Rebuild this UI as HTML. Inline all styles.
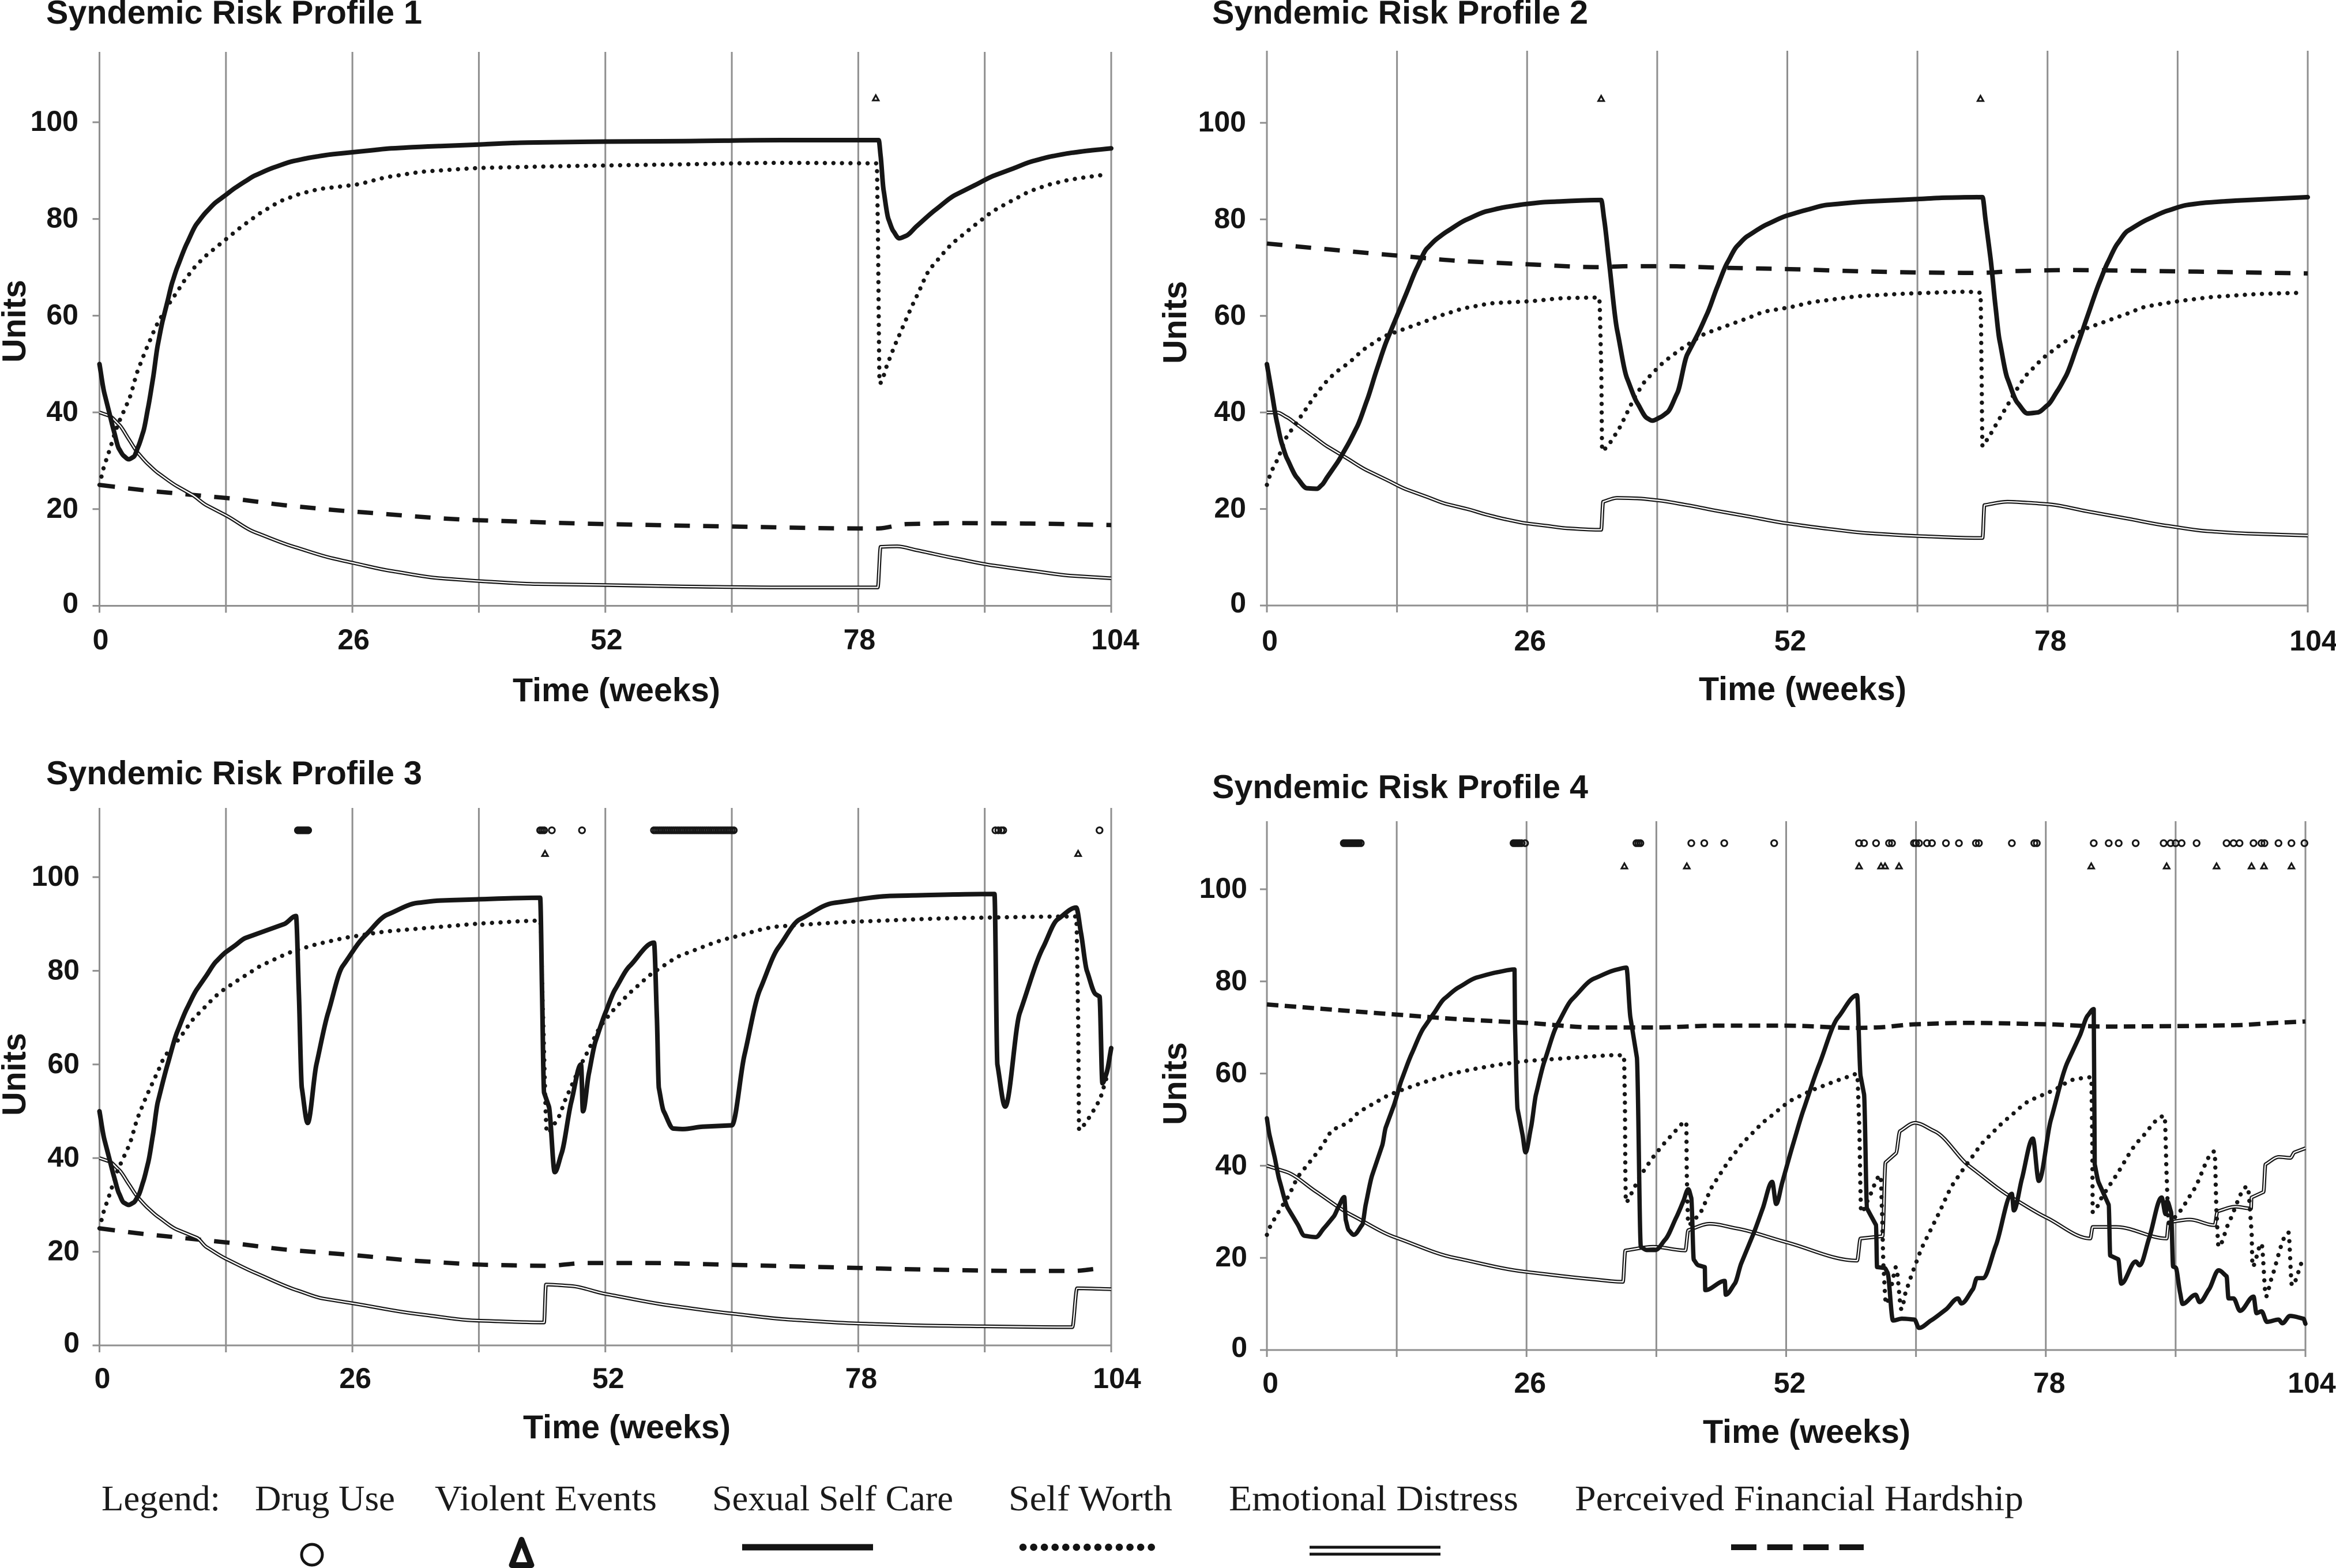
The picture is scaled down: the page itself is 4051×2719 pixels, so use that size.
<!DOCTYPE html>
<html lang="en">
<head>
<meta charset="utf-8">
<title>Syndemic Risk Profiles</title>
<style>
html,body{margin:0;padding:0;background:#fff;}
svg{display:block;position:absolute;left:0;top:0;}
.title,.axis-title,.tick{font-family:"Liberation Sans",sans-serif;font-weight:bold;fill:#141414;}
.title,.axis-title{font-size:57.5px;}
.tick{font-size:50px;}
.lg{font-family:"Liberation Serif",serif;font-size:62px;fill:#1a1a1a;}
</style>
</head>
<body>
<svg id="chart" xmlns="http://www.w3.org/2000/svg" width="4051" height="2719" viewBox="0 0 4051 2719">
<rect x="0" y="0" width="4051" height="2719" fill="#fff"/>

<g id="panel1">
<text class="title" x="80" y="41">Syndemic Risk Profile 1</text>
<text class="axis-title" x="1069" y="1216" text-anchor="middle">Time (weeks)</text>
<text class="axis-title" transform="translate(44 557) rotate(-90)" text-anchor="middle">Units</text>
</g>
<g id="panel2">
<text class="title" x="2102" y="41">Syndemic Risk Profile 2</text>
<text class="axis-title" x="3126" y="1214" text-anchor="middle">Time (weeks)</text>
<text class="axis-title" transform="translate(2057 559) rotate(-90)" text-anchor="middle">Units</text>
</g>
<g id="panel3">
<text class="title" x="80" y="1360">Syndemic Risk Profile 3</text>
<text class="axis-title" x="1087" y="2494" text-anchor="middle">Time (weeks)</text>
<text class="axis-title" transform="translate(44 1863) rotate(-90)" text-anchor="middle">Units</text>
</g>
<g id="panel4">
<text class="title" x="2102" y="1384">Syndemic Risk Profile 4</text>
<text class="axis-title" x="3133" y="2502" text-anchor="middle">Time (weeks)</text>
<text class="axis-title" transform="translate(2057 1879) rotate(-90)" text-anchor="middle">Units</text>
</g>

<g>
<text class="lg" x="176" y="2619" textLength="206" lengthAdjust="spacingAndGlyphs">Legend:</text>
<text class="lg" x="442" y="2619" textLength="243" lengthAdjust="spacingAndGlyphs">Drug Use</text>
<text class="lg" x="754" y="2619" textLength="385" lengthAdjust="spacingAndGlyphs">Violent Events</text>
<text class="lg" x="1235" y="2619" textLength="418" lengthAdjust="spacingAndGlyphs">Sexual Self Care</text>
<text class="lg" x="1749" y="2619" textLength="284" lengthAdjust="spacingAndGlyphs">Self Worth</text>
<text class="lg" x="2131" y="2619" textLength="502" lengthAdjust="spacingAndGlyphs">Emotional Distress</text>
<text class="lg" x="2731" y="2619" textLength="778" lengthAdjust="spacingAndGlyphs">Perceived Financial Hardship</text>
<circle cx="541" cy="2696" r="18" fill="none" stroke="#141414" stroke-width="5"/>
<path d="M904.5 2670 L921.5 2714 L887.5 2714 Z" fill="none" stroke="#141414" stroke-width="10" stroke-linejoin="round"/>
<line x1="1287" y1="2683" x2="1514" y2="2683" stroke="#141414" stroke-width="11"/>
<line x1="1774" y1="2683" x2="1997" y2="2683" stroke="#141414" stroke-width="12.5" stroke-linecap="round" stroke-dasharray="0.1 18.45"/>
<line x1="2271" y1="2683" x2="2498" y2="2683" stroke="#141414" stroke-width="5"/>
<line x1="2271" y1="2695" x2="2498" y2="2695" stroke="#141414" stroke-width="5"/>
<line x1="3002" y1="2683" x2="3232" y2="2683" stroke="#141414" stroke-width="10" stroke-dasharray="44 18.6"/>
</g>
</svg>

<script>
// Shared axis values
const weekTicks = [0, 13, 26, 39, 52, 65, 78, 91, 104];
const weekLabels = ['0', '', '26', '', '52', '', '78', '', '104'];
const unitTicks = [0, 20, 40, 60, 80, 100];

// ---- Profile 1 ----
const p1Care = [[0,50],[.5,44],[1,40],[1.5,36],[2,32.5],[2.5,31],[3,30.3],[3.5,30.8],[4,33],[4.5,36],[5,41],[5.5,47],[6,54],[6.5,59],[7,63],[7.5,67],[8,70],[9,75],[10,79],[11,81.5],[12,83.5],[13,85],[14,86.5],[15,87.8],[16,89],[18,90.7],[20,92],[22,92.8],[24,93.4],[26,93.8],[28,94.2],[30,94.6],[34,95],[38,95.3],[44,95.8],[52,96],[60,96.1],[70,96.3],[80.1,96.3],[80.3,93],[80.6,86],[81.1,80],[81.6,77.5],[82.2,76],[82.9,76.5],[84,78.5],[86,82],[88,85],[90,87],[92,89],[94,90.5],[96,92],[98,93],[100,93.7],[102,94.2],[104,94.6]];
const p1Worth = [[0,25],[.5,29],[1,32],[2,38],[3,42.5],[4,49],[5,54],[6,58.5],[7,62],[8,65],[9,68],[10,70.5],[11,72.5],[13,75.8],[15,79],[17,81.8],[19,84],[21,85.4],[23,86.3],[26,87],[30,88.8],[34,89.9],[40,90.6],[50,91],[60,91.3],[70,91.6],[79.9,91.5],[80,80],[80.2,46],[81,50],[82,55],[84,64],[85.5,70],[88,75.5],[90.8,80],[92,81.8],[94,84],[96,86],[98,87.3],[100,88.2],[102,88.8],[103.5,89.2]];
const p1Distress = [[0,40],[1,39.3],[2,37.5],[3,34.5],[4,31.5],[5,29.3],[6,27.5],[8,24.7],[9.5,23],[11,20.8],[13,18.7],[16,15.2],[20,12.2],[24,9.8],[26,8.9],[30,7.2],[35,5.7],[40,5],[45,4.5],[52,4.3],[60,4],[70,3.8],[80,3.8],[80.3,12.2],[82,12.3],[84,11.5],[88,9.8],[92,8.3],[96,7.2],[100,6.2],[104,5.7]];
const p1Hardship = [[0,25],[6,23.6],[13,22.3],[20,20.6],[26,19.5],[39,17.7],[52,16.9],[65,16.4],[78,16],[80,16],[83,16.9],[88,17.1],[96,17],[104,16.7]];
const p1Drug = [];
const p1Violent = [79.8];

// ---- Profile 2 ----
const p2Care = [[0,50],[.5,44],[1,38],[1.5,33.5],[2,30.5],[3,26.5],[4,24.3],[5,24.2],[5.5,25],[6,26.5],[7,29.5],[8,33],[9,37],[10,42.5],[11,49],[12,55],[13,60],[14,65],[15,70],[16,74],[17,76],[18,77.5],[20,80],[22,81.7],[24,82.6],[26,83.2],[28,83.6],[33.4,84],[33.7,80],[34.2,71],[35,57],[36,47],[37,42],[38,38.8],[38.5,38.3],[39.3,39],[40,40],[41,44],[42,52],[43,56],[44,60.5],[45,66],[46,71],[47,74.5],[48,76.5],[50,79],[52,80.8],[54,82],[56,83],[60,83.7],[65,84.2],[68,84.5],[71.5,84.6],[71.8,80],[72.3,72],[72.8,62],[73.2,55],[74,47],[75,42],[76,39.8],[77,40],[78,41.5],[79,44.5],[79.8,47.4],[81,54],[82,60],[83.2,67],[84,71],[85,75],[86,77.6],[88,80],[90,81.8],[92,83],[94,83.5],[97,83.9],[100,84.2],[104,84.6]];
const p2Worth = [[0,25],[.5,28],[1,30],[2,35],[3,38],[4,41],[5,44],[6,46.5],[7,48.5],[8,50],[10,53.5],[12,56],[14,57.5],[16,59],[18,60.5],[20,61.7],[23,62.7],[26,63],[30,63.7],[33.2,63.8],[33.4,50],[33.5,32],[34,33],[35,36],[36,40],[37,44],[38,47],[40,51],[42,54],[44,56.5],[46,58],[48,59.5],[50,61],[52,61.7],[55,63],[60,64.2],[65,64.7],[70,65],[71.3,64.8],[71.4,50],[71.5,33],[72,34.5],[73,38],[74,41.5],[75,45],[76,48],[78,52],[80,55],[82,57.5],[84,59],[86,60.5],[88,62],[90,62.7],[92,63.3],[95,64],[100,64.6],[103.5,64.8]];
const p2Distress = [[0,40],[1,40],[2,39],[3,37.5],[4,36],[5,34.5],[6,33],[8,30.5],[10,28],[12,26],[14,24],[16,22.5],[18,21],[20,20],[22,18.8],[24,17.8],[26,17],[28,16.5],[30,16],[33,15.7],[33.4,15.7],[33.6,21.5],[35,22.3],[37,22.2],[39,21.8],[42,20.8],[45,19.6],[48,18.5],[52,17],[56,15.9],[60,15],[65,14.4],[71,14],[71.5,14],[71.7,20.8],[74,21.5],[76,21.3],[78,21],[82,19.5],[86,18],[90,16.5],[94,15.4],[98,14.9],[104,14.5]];
const p2Hardship = [[0,75],[5,74],[13,72.5],[20,71.3],[26,70.7],[33,70.1],[36,70.3],[40,70.3],[45,70],[52,69.7],[60,69.2],[65,69],[71,68.9],[75,69.3],[80,69.5],[85,69.4],[92,69.2],[104,68.8]];
const p2Drug = [];
const p2Violent = [33.4, 71.3];

// ---- Profile 3 ----
const p3Care = [[0,50],[.5,44],[1,40],[1.5,36],[2,32.5],[2.5,30.5],[3,30],[3.5,30.5],[4,32],[4.5,35],[5,39],[5.5,45],[6,52],[7,60],[8,67],[9,72],[10,76],[11,79],[12,82],[13,84],[14,85.5],[15,87],[17,88.5],[19,90],[20.2,91.7],[20.5,75],[20.8,55],[21.4,47.5],[22.3,60],[23.5,71],[25,81],[27.3,87.5],[29.6,92],[32.7,94.5],[35,95],[38,95.2],[45.3,95.6],[45.5,75],[45.7,54],[46.2,51],[46.8,37],[47.5,41],[48.5,52],[49.5,60],[49.7,50],[50.3,58],[51,65],[52,71],[53,76],[54.5,81],[57,86],[57.3,70],[57.5,55],[58,50],[59,46.3],[60,46.2],[62,46.7],[65,47],[66.3,62],[67.9,76],[69.8,85],[72,91],[75.5,94.5],[81.6,96],[92,96.4],[92.3,60],[93.1,51],[94.6,71],[97,85],[98.5,91],[100.4,93.5],[100.9,88],[101.5,80],[102.4,75],[102.8,74.5],[103.1,56],[103.5,58],[104,63.5]];
const p3Worth = [[0,25],[.5,29],[1,32],[2,38],[3,42.5],[4,49],[5,54],[6,58.5],[6.8,62],[8,65],[10,70.5],[12.8,76],[15,79],[17,81.5],[20.4,84.5],[23,86],[26,87.3],[30,88.5],[35.7,89.5],[40,90.2],[45.3,90.7],[45.6,70],[46,45.4],[47,48],[48,53],[50,62],[51.8,69],[53,72],[54.9,76],[57.2,80],[60,83.5],[64.8,87],[70,89.5],[77.8,90.5],[89.3,91.3],[100.4,91.6],[100.6,70],[100.7,46],[101.5,48],[102.7,52],[103.5,57]];
const p3Distress = [[0,40],[1,39.3],[2,37.5],[3,34.5],[4,31.5],[5,29.3],[6,27.5],[8,24.7],[10,23],[11,21],[13,18.5],[16,15.5],[20.4,11.7],[23,10],[26,9],[32.7,6.7],[38.8,5.3],[45.7,4.9],[45.9,13],[48.4,12.7],[52,11],[58.7,8.5],[65,6.8],[71,5.5],[77.8,4.7],[86,4.2],[100,3.9],[100.5,12.2],[104,12]];
const p3Hardship = [[0,25],[5,23.7],[13,22],[20,20.3],[26,19.3],[33,18],[40,17.2],[46,17],[50,17.6],[56,17.6],[65,17.2],[75,16.7],[85,16.2],[95,15.9],[100,15.9],[103,16.5]];
const p3Drug = [20.4,20.55,20.7,20.85,21,21.15,21.3,21.45,45.3,45.5,45.7,46.5,49.6,57,57.2,57.4,57.6,57.8,58,58.2,58.4,58.6,58.8,59,59.2,59.4,59.6,59.8,60,60.2,60.4,60.6,60.8,61,61.2,61.4,61.6,61.8,62,62.2,62.4,62.6,62.8,63,63.2,63.4,63.6,63.8,64,64.2,64.4,64.6,64.8,65,65.2,92.1,92.4,92.7,92.9,102.8];
const p3Violent = [45.8, 100.6];

// ---- Profile 4 ----
const p4Care = [[0,50.3],[.26,46.7],[.76,42],[1.26,36.8],[2.1,30.8],[3.1,27.2],[3.75,24.8],[4.9,24.5],[5.7,26.4],[6.7,29],[7.2,31.2],[7.75,33.2],[7.9,28.2],[8.2,26],[8.7,25],[9.55,27.2],[9.9,31.6],[10.55,38],[11.55,44.4],[11.9,48.3],[12.7,53],[13.5,58.7],[14.5,64.3],[15.7,69.9],[16.7,73],[17.8,76.3],[19.2,78.7],[21.1,80.9],[23.1,82],[24.8,82.6],[24.85,69.9],[25.1,52.3],[25.6,46.7],[25.9,42.9],[26.45,48.3],[26.95,55.5],[27.8,62.7],[29.1,70.7],[30.6,76.2],[32.75,80.6],[35.1,82.6],[36,83],[36.4,72.2],[37.05,63.5],[37.45,22.4],[38.05,21.7],[38.9,21.7],[39.9,24],[41,28.8],[41.7,32.3],[42.2,34.9],[42.5,33],[42.75,19.6],[43.2,18.4],[43.85,18],[43.9,13],[45.85,15],[45.95,12],[46.85,14.4],[47.5,18.8],[48.7,25.1],[49.65,30.7],[50.6,36.5],[51,31.7],[51.6,36.3],[52.75,45.1],[53.7,51.9],[55.3,61.9],[57.2,72.2],[59.1,77],[59.45,59.5],[59.8,55.5],[60.1,30.7],[61,27.1],[61.1,18],[61.85,17.8],[62.15,16.8],[62.7,6.4],[63.6,6.8],[64.85,6.6],[65.3,4.8],[66.5,6.4],[68,8.8],[69.2,11.2],[69.55,10.1],[70.7,13.2],[71.1,15.6],[71.7,15.6],[73,22.7],[74.6,33.9],[74.8,30.3],[75.6,37.1],[76.7,45.9],[77.3,36.7],[78.5,49.9],[80.2,62.6],[81.4,68.2],[82.2,72.6],[82.8,74],[82.9,40.3],[83.3,36.3],[84.3,31.5],[84.45,20.5],[85.25,19.7],[85.55,14.4],[87,19.2],[87.4,18.4],[88.35,24.3],[89.6,33.1],[90,29.5],[90.15,32.3],[90.55,29.9],[90.75,18.1],[91,17.9],[91.45,12.4],[91.7,10],[93,12],[93.4,10.4],[94.35,13.2],[95.3,17.3],[96.1,16],[96.3,11.2],[96.8,11.2],[97.45,8.5],[98.8,11.6],[99.1,8],[99.6,8.4],[100.15,6.1],[101.3,6.6],[101.7,5.8],[102.45,7.4],[103.8,6.8],[104,5.7]];
const p4Worth = [[0,25],[.33,26.8],[1.2,30.1],[2.1,33.2],[3.25,38],[4.4,41.1],[5.4,43.9],[6.7,47.9],[7.9,49.1],[9.4,51.9],[10.7,53.5],[12.4,55.5],[13.85,56.7],[16.3,58.5],[18.8,60.1],[21.3,61.2],[23.8,62.1],[26.45,62.8],[29.8,63.3],[32.4,63.7],[35,64],[35.75,63.9],[35.85,53.9],[35.9,37.9],[35.95,32],[36.4,33.6],[37.55,38.3],[39.05,42.9],[40.4,46.3],[42,49.5],[42.05,37.9],[42.2,27.2],[43.2,29.2],[44.7,35.9],[46.7,42.3],[47.9,45.5],[50.2,50.3],[52.95,54.7],[55.3,57],[57.8,59],[59.1,59.9],[59.3,49.9],[59.45,33.9],[59.5,29.9],[60.3,33.1],[61.45,37.9],[61.6,29.9],[61.75,18],[62,10],[62.6,14.4],[63,18],[63.55,8.8],[63.95,12.4],[64.85,18],[65.7,22.7],[67.25,29.5],[68.8,36.3],[70.35,41.1],[71.9,45.5],[74.2,50.3],[76.55,54.3],[78.7,56.3],[81,58.8],[82.55,59.2],[82.65,45.9],[82.7,29.9],[83.7,33.5],[85.05,37.9],[87.35,45.5],[89.9,50.8],[90.1,37.9],[90.3,27.5],[91.05,29.1],[92.8,34.7],[94.9,43.1],[95.1,29.9],[95.3,22.4],[96.3,27.5],[98.2,35.5],[98.6,25.9],[98.7,18.1],[99.6,23.1],[100.05,11.6],[100.55,15.2],[102.3,25.5],[102.65,14],[103.65,19.2]];
const p4Distress = [[0,40],[1.9,38.7],[4.9,34.4],[8.55,29.2],[12.9,24.4],[18.8,20],[25.8,17],[32.4,15.4],[35.65,14.8],[35.9,21.6],[38.7,22.4],[41.9,21.6],[42.2,26],[44.35,27.4],[47,26.4],[52,23.4],[59.1,19.4],[59.45,24.2],[61.65,24.7],[61.95,40.7],[63,42.7],[63.4,47.5],[64.9,49.3],[66.85,47.5],[70.35,39.9],[74.6,33.1],[78.1,28.7],[82.45,24.2],[82.7,26.7],[85.05,26.7],[90.1,24.2],[90.3,27.7],[92.4,28.3],[94.9,27.1],[95.2,30.1],[97,31.1],[98.55,30.7],[98.6,33.1],[99.8,34.3],[100,40.3],[101.35,41.9],[102.5,41.7],[102.9,42.9],[104,43.8]];
const p4Hardship = [[0,75],[13,72.8],[20,71.7],[26,71],[33,70],[39,70],[45,70.4],[52,70.4],[59,69.9],[61,70],[65,70.7],[70,71],[78,70.7],[84,70.2],[91,70.3],[97,70.5],[101,71],[104,71.3]];
const p4Drug = [7.7,7.85,8,8.15,8.3,8.45,8.6,8.75,8.9,9.05,9.2,9.4,24.7,24.85,25,25.15,25.3,25.5,25.85,37,37.2,37.4,42.5,43.8,45.8,50.8,59.3,59.8,61,62.3,62.6,64.8,65,65.3,66.1,66.6,68,69.3,71,71.3,74.6,76.85,77.1,82.8,84.3,85.3,87,89.8,90.5,91,91.6,93.1,96.1,96.8,97.4,98.8,99.6,99.9,101.3,102.6,103.9];
const p4Violent = [35.8,42.05,59.3,61.5,61.9,63.3,82.55,90.1,95.1,98.6,99.85,102.6];

const NS = 'http://www.w3.org/2000/svg';
const GRID = '#8f8f8f';
const INK = '#161616';

function make(parent, tag, attrs) {
  const el = document.createElementNS(NS, tag);
  for (const k in attrs) el.setAttribute(k, attrs[k]);
  parent.appendChild(el);
  return el;
}

// Monotone cubic path through pixel points (no overshoot at sharp drops)
function smoothPath(px) {
  const n = px.length;
  const dx = [], sl = [];
  for (let i = 0; i < n - 1; i++) {
    dx[i] = Math.max(px[i + 1][0] - px[i][0], 0.01);
    sl[i] = (px[i + 1][1] - px[i][1]) / dx[i];
  }
  const t = [];
  t[0] = sl[0];
  t[n - 1] = sl[n - 2];
  for (let i = 1; i < n - 1; i++) {
    if (sl[i - 1] * sl[i] <= 0) { t[i] = 0; continue; }
    const m = (sl[i - 1] * dx[i] + sl[i] * dx[i - 1]) / (dx[i - 1] + dx[i]);
    t[i] = Math.sign(sl[i]) * Math.min(Math.abs(sl[i - 1]), Math.abs(sl[i]), 0.5 * Math.abs(m) * 2);
  }
  let d = 'M' + px[0][0].toFixed(1) + ' ' + px[0][1].toFixed(1);
  for (let i = 0; i < n - 1; i++) {
    const h = dx[i] / 3;
    d += ' C' + (px[i][0] + h).toFixed(2) + ' ' + (px[i][1] + t[i] * h).toFixed(2) + ' ' +
      (px[i + 1][0] - h).toFixed(2) + ' ' + (px[i + 1][1] - t[i + 1] * h).toFixed(2) + ' ' +
      px[i + 1][0].toFixed(2) + ' ' + px[i + 1][1].toFixed(2);
  }
  return d;
}

function drawPanel(cfg) {
  const g = document.getElementById(cfg.id);
  const xOf = w => cfg.x0 + (cfg.x104 - cfg.x0) * w / 104;
  const yOf = v => cfg.y0 - (cfg.y0 - cfg.y100) * v / 100;
  const toPath = pts => smoothPath(pts.map(p => [xOf(p[0]), yOf(p[1])]));

  weekTicks.forEach((w, i) => {
    const line = make(g, 'line', {x1: xOf(w), x2: xOf(w), y1: cfg.top, y2: cfg.y0 + 12, stroke: GRID, 'stroke-width': 3});
    
    
    if (weekLabels[i]) {
      const t = make(g, 'text', {x: xOf(w) + cfg.xShift + (w === 104 ? 5 : 0), y: cfg.xLabelY, 'text-anchor': 'middle', class: 'tick'});
      
      
      t.textContent = weekLabels[i];
    }
  });
  const axis = make(g, 'line', {x1: cfg.x0 - 12, x2: cfg.x104, y1: cfg.y0, y2: cfg.y0, stroke: GRID, 'stroke-width': 3});
  
  
  unitTicks.forEach(v => {
    const tick = make(g, 'line', {x1: cfg.x0 - 12, x2: cfg.x0, y1: yOf(v), y2: yOf(v), stroke: GRID, 'stroke-width': 3});
    
    
    const t = make(g, 'text', {x: cfg.yLabelX, y: yOf(v) + (v === 0 ? 12 : 15), 'text-anchor': 'end', class: 'tick'});
    
    
    t.textContent = String(v);
  });

  const hardship = make(g, 'path', {d: toPath(cfg.hardship), fill: 'none', stroke: INK, 'stroke-width': 7.5, 'stroke-dasharray': cfg.dash});
  
  

  const distressOuter = make(g, 'path', {d: toPath(cfg.distress), fill: 'none', stroke: INK, 'stroke-width': 6.5, 'stroke-linejoin': 'round'});
  
  
  const distressInner = make(g, 'path', {d: toPath(cfg.distress), fill: 'none', stroke: '#fff', 'stroke-width': 2.2, 'stroke-linejoin': 'round'});
  
  

  const worth = make(g, 'path', {d: toPath(cfg.worth), fill: 'none', stroke: INK, 'stroke-width': 7.4, 'stroke-linecap': 'round', 'stroke-dasharray': '0.1 14.7'});
  
  

  const care = make(g, 'path', {d: toPath(cfg.care), fill: 'none', stroke: INK, 'stroke-width': cfg.careWidth, 'stroke-linejoin': 'round', 'stroke-linecap': 'round'});
  
  

  cfg.drug.forEach(w => {
    const c = make(g, 'circle', {cx: xOf(w), cy: yOf(110), r: 5.2, fill: 'none', stroke: INK, 'stroke-width': 3});
    
    
  });
  cfg.violent.forEach(w => {
    const x = xOf(w), y = yOf(105);
    const tri = make(g, 'path', {d: `M${x} ${y - 5} L${x + 5} ${y + 4} L${x - 5} ${y + 4} Z`, fill: 'none', stroke: INK, 'stroke-width': 3});
    
    
  });
}

drawPanel({id: 'panel1', x0: 172.5, x104: 1927, y0: 1050.5, y100: 212, top: 90, xShift: 2, xLabelY: 1126, yLabelX: 136, dash: '27 23', careWidth: 8,
  care: p1Care, worth: p1Worth, distress: p1Distress, hardship: p1Hardship, drug: p1Drug, violent: p1Violent});
drawPanel({id: 'panel2', x0: 2197, x104: 4002, y0: 1050, y100: 213, top: 88, xShift: 5, xLabelY: 1128, yLabelX: 2161, dash: '27 23', careWidth: 8,
  care: p2Care, worth: p2Worth, distress: p2Distress, hardship: p2Hardship, drug: p2Drug, violent: p2Violent});
drawPanel({id: 'panel3', x0: 172.5, x104: 1927, y0: 2333, y100: 1521, top: 1401, xShift: 5, xLabelY: 2407, yLabelX: 138, dash: '27 23', careWidth: 8,
  care: p3Care, worth: p3Worth, distress: p3Distress, hardship: p3Hardship, drug: p3Drug, violent: p3Violent});
drawPanel({id: 'panel4', x0: 2197, x104: 3998, y0: 2341, y100: 1542, top: 1424, xShift: 6, xLabelY: 2415, yLabelX: 2163, dash: '20 11', careWidth: 7.5,
  care: p4Care, worth: p4Worth, distress: p4Distress, hardship: p4Hardship, drug: p4Drug, violent: p4Violent});
</script>
</body>
</html>
